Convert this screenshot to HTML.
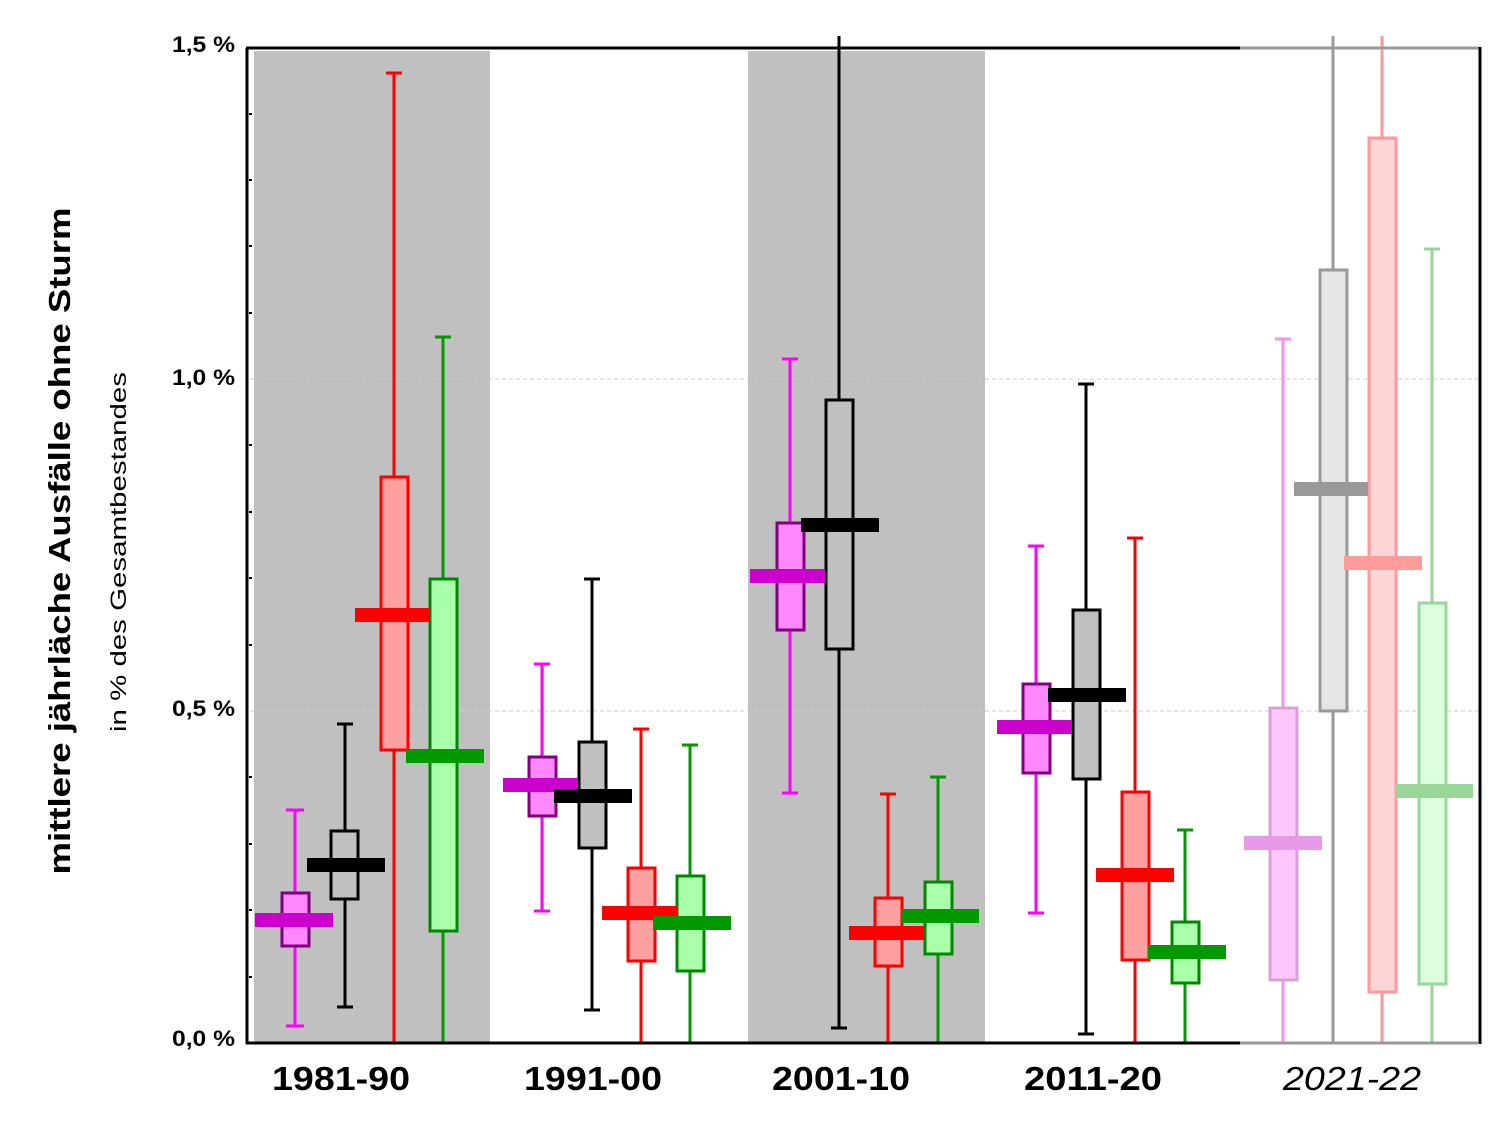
<!DOCTYPE html>
<html><head><meta charset="utf-8"><style>body{margin:0;background:#fff}svg{display:block}</style></head><body>
<svg width="1500" height="1126" viewBox="0 0 1500 1126" xmlns="http://www.w3.org/2000/svg" font-family="Liberation Sans, sans-serif">
<rect x="254" y="51" width="236" height="992" fill="#c0c0c0"/>
<rect x="748" y="51" width="237" height="992" fill="#c0c0c0"/>
<line x1="250" y1="379" x2="1478" y2="379" stroke="#ccc" stroke-width="1" stroke-dasharray="4,3"/>
<line x1="250" y1="711" x2="1478" y2="711" stroke="#ccc" stroke-width="1" stroke-dasharray="4,3"/>
<g stroke-width="3">
<line x1="295" y1="810" x2="295" y2="1026" stroke="#ff00ff"/><line x1="286" y1="810" x2="304" y2="810" stroke="#ff00ff"/><line x1="286" y1="1026" x2="304" y2="1026" stroke="#ff00ff"/>
<rect x="282" y="893" width="27" height="53" fill="#ff88ff" stroke="#800080"/>
<line x1="345" y1="724" x2="345" y2="1007" stroke="#000"/><line x1="337" y1="724" x2="353" y2="724" stroke="#000"/><line x1="337" y1="1007" x2="353" y2="1007" stroke="#000"/>
<rect x="331" y="831" width="27" height="68" fill="#c0c0c0" stroke="#000"/>
<line x1="394" y1="73" x2="394" y2="1043" stroke="#ff0000"/><line x1="386" y1="73" x2="402" y2="73" stroke="#ff0000"/>
<rect x="381" y="477" width="27" height="273" fill="#ffa0a0" stroke="#ff0000"/>
<line x1="443" y1="337" x2="443" y2="1043" stroke="#009900"/><line x1="435" y1="337" x2="451" y2="337" stroke="#009900"/>
<rect x="430" y="579" width="27" height="352" fill="#aaffaa" stroke="#008800"/>
</g>
<rect x="255" y="913" width="78" height="14" fill="#cc00cc"/>
<rect x="307" y="858" width="78" height="14" fill="#000"/>
<rect x="355" y="608" width="75" height="14" fill="#ff0000"/>
<rect x="406" y="749" width="78" height="14" fill="#009900"/>
<g stroke-width="3">
<line x1="542" y1="664" x2="542" y2="911" stroke="#ff00ff"/><line x1="534" y1="664" x2="550" y2="664" stroke="#ff00ff"/><line x1="534" y1="911" x2="550" y2="911" stroke="#ff00ff"/>
<rect x="529" y="757" width="27" height="59" fill="#ff88ff" stroke="#800080"/>
<line x1="592" y1="579" x2="592" y2="1010" stroke="#000"/><line x1="584" y1="579" x2="600" y2="579" stroke="#000"/><line x1="584" y1="1010" x2="600" y2="1010" stroke="#000"/>
<rect x="579" y="742" width="27" height="106" fill="#c0c0c0" stroke="#000"/>
<line x1="641" y1="729" x2="641" y2="1043" stroke="#ff0000"/><line x1="633" y1="729" x2="649" y2="729" stroke="#ff0000"/>
<rect x="628" y="868" width="27" height="93" fill="#ffa0a0" stroke="#ff0000"/>
<line x1="690" y1="745" x2="690" y2="1043" stroke="#009900"/><line x1="682" y1="745" x2="698" y2="745" stroke="#009900"/>
<rect x="677" y="876" width="27" height="95" fill="#aaffaa" stroke="#008800"/>
</g>
<rect x="503" y="778" width="75" height="14" fill="#cc00cc"/>
<rect x="554" y="789" width="78" height="14" fill="#000"/>
<rect x="602" y="906" width="75" height="14" fill="#ff0000"/>
<rect x="653" y="916" width="78" height="14" fill="#009900"/>
<g stroke-width="3">
<line x1="790" y1="359" x2="790" y2="793" stroke="#ff00ff"/><line x1="782" y1="359" x2="798" y2="359" stroke="#ff00ff"/><line x1="782" y1="793" x2="798" y2="793" stroke="#ff00ff"/>
<rect x="777" y="523" width="27" height="107" fill="#ff88ff" stroke="#800080"/>
<line x1="839" y1="36" x2="839" y2="1028" stroke="#000"/><line x1="831" y1="1028" x2="847" y2="1028" stroke="#000"/>
<rect x="826" y="400" width="27" height="249" fill="#c0c0c0" stroke="#000"/>
<line x1="888" y1="794" x2="888" y2="1043" stroke="#ff0000"/><line x1="880" y1="794" x2="896" y2="794" stroke="#ff0000"/>
<rect x="875" y="898" width="27" height="68" fill="#ffa0a0" stroke="#ff0000"/>
<line x1="938" y1="777" x2="938" y2="1043" stroke="#009900"/><line x1="930" y1="777" x2="946" y2="777" stroke="#009900"/>
<rect x="925" y="882" width="27" height="72" fill="#aaffaa" stroke="#008800"/>
</g>
<rect x="750" y="569" width="75" height="14" fill="#cc00cc"/>
<rect x="801" y="518" width="78" height="14" fill="#000"/>
<rect x="849" y="926" width="75" height="14" fill="#ff0000"/>
<rect x="901" y="909" width="78" height="14" fill="#009900"/>
<g stroke-width="3">
<line x1="1036" y1="546" x2="1036" y2="913" stroke="#ff00ff"/><line x1="1028" y1="546" x2="1044" y2="546" stroke="#ff00ff"/><line x1="1028" y1="913" x2="1044" y2="913" stroke="#ff00ff"/>
<rect x="1023" y="684" width="27" height="89" fill="#ff88ff" stroke="#800080"/>
<line x1="1086" y1="384" x2="1086" y2="1034" stroke="#000"/><line x1="1078" y1="384" x2="1094" y2="384" stroke="#000"/><line x1="1078" y1="1034" x2="1094" y2="1034" stroke="#000"/>
<rect x="1073" y="610" width="27" height="169" fill="#c0c0c0" stroke="#000"/>
<line x1="1135" y1="538" x2="1135" y2="1043" stroke="#ff0000"/><line x1="1127" y1="538" x2="1143" y2="538" stroke="#ff0000"/>
<rect x="1122" y="792" width="27" height="168" fill="#ffa0a0" stroke="#ff0000"/>
<line x1="1185" y1="830" x2="1185" y2="1043" stroke="#009900"/><line x1="1177" y1="830" x2="1193" y2="830" stroke="#009900"/>
<rect x="1172" y="922" width="27" height="61" fill="#aaffaa" stroke="#008800"/>
</g>
<rect x="997" y="720" width="75" height="14" fill="#cc00cc"/>
<rect x="1048" y="688" width="78" height="14" fill="#000"/>
<rect x="1096" y="868" width="78" height="14" fill="#ff0000"/>
<rect x="1148" y="945" width="78" height="14" fill="#009900"/>
<g stroke-width="3">
<line x1="1283" y1="339" x2="1283" y2="1043" stroke="#f590f5"/><line x1="1275" y1="339" x2="1291" y2="339" stroke="#f590f5"/>
<rect x="1270" y="708" width="27" height="272" fill="#fcc8fc" stroke="#d8a0d8"/>
<line x1="1333" y1="36" x2="1333" y2="1043" stroke="#999"/>
<rect x="1320" y="270" width="27" height="441" fill="#e5e5e5" stroke="#999"/>
<line x1="1382" y1="36" x2="1382" y2="1043" stroke="#ff9999"/>
<rect x="1369" y="138" width="27" height="854" fill="#ffd5d5" stroke="#ff9999"/>
<line x1="1432" y1="249" x2="1432" y2="1043" stroke="#99d699"/><line x1="1424" y1="249" x2="1440" y2="249" stroke="#99d699"/>
<rect x="1419" y="603" width="27" height="381" fill="#ddffdd" stroke="#99d699"/>
</g>
<rect x="1244" y="836" width="78" height="14" fill="#e89ae8"/>
<rect x="1294" y="482" width="74" height="14" fill="#999"/>
<rect x="1344" y="556" width="78" height="14" fill="#ff9b9b"/>
<rect x="1395" y="784" width="78" height="14" fill="#99d699"/>
<line x1="247" y1="48" x2="247" y2="1044" stroke="#000" stroke-width="3"/>
<line x1="246" y1="48" x2="1240" y2="48" stroke="#000" stroke-width="3"/>
<line x1="1240" y1="48" x2="1479" y2="48" stroke="#999" stroke-width="3"/>
<line x1="1480" y1="47" x2="1480" y2="1044" stroke="#000" stroke-width="3"/>
<line x1="246" y1="1043" x2="1240" y2="1043" stroke="#000" stroke-width="3"/>
<line x1="1240" y1="1043" x2="1478" y2="1043" stroke="#999" stroke-width="3"/>
<g stroke="#000" stroke-width="2">
<line x1="249" y1="114" x2="252" y2="114"/><line x1="249" y1="180" x2="252" y2="180"/><line x1="249" y1="246" x2="252" y2="246"/><line x1="249" y1="313" x2="252" y2="313"/>
<line x1="249" y1="445" x2="252" y2="445"/><line x1="249" y1="512" x2="252" y2="512"/><line x1="249" y1="578" x2="252" y2="578"/><line x1="249" y1="645" x2="252" y2="645"/>
<line x1="249" y1="777" x2="252" y2="777"/><line x1="249" y1="844" x2="252" y2="844"/><line x1="249" y1="910" x2="252" y2="910"/><line x1="249" y1="977" x2="252" y2="977"/>
</g>
<g font-size="22" font-weight="bold" text-anchor="end" fill="#000">
<text x="235" y="52" textLength="63" lengthAdjust="spacingAndGlyphs">1,5 %</text>
<text x="235" y="385" textLength="63" lengthAdjust="spacingAndGlyphs">1,0 %</text>
<text x="235" y="716" textLength="63" lengthAdjust="spacingAndGlyphs">0,5 %</text>
<text x="235" y="1046" textLength="63" lengthAdjust="spacingAndGlyphs">0,0 %</text>
</g>
<g font-size="33" font-weight="bold" text-anchor="middle" fill="#000">
<text x="341" y="1090" textLength="138" lengthAdjust="spacingAndGlyphs">1981-90</text>
<text x="593" y="1090" textLength="138" lengthAdjust="spacingAndGlyphs">1991-00</text>
<text x="841" y="1090" textLength="138" lengthAdjust="spacingAndGlyphs">2001-10</text>
<text x="1093" y="1090" textLength="138" lengthAdjust="spacingAndGlyphs">2011-20</text>
</g>
<text x="1352" y="1090" font-size="33" font-style="italic" text-anchor="middle" textLength="138" lengthAdjust="spacingAndGlyphs">2021-22</text>
<text transform="translate(70,541) rotate(-90)" font-size="31" font-weight="bold" text-anchor="middle" textLength="667" lengthAdjust="spacingAndGlyphs">mittlere jährläche Ausfälle ohne Sturm</text>
<text transform="translate(126,552) rotate(-90)" font-size="22" text-anchor="middle" textLength="360" lengthAdjust="spacingAndGlyphs">in % des Gesamtbestandes</text>
</svg>
</body></html>
